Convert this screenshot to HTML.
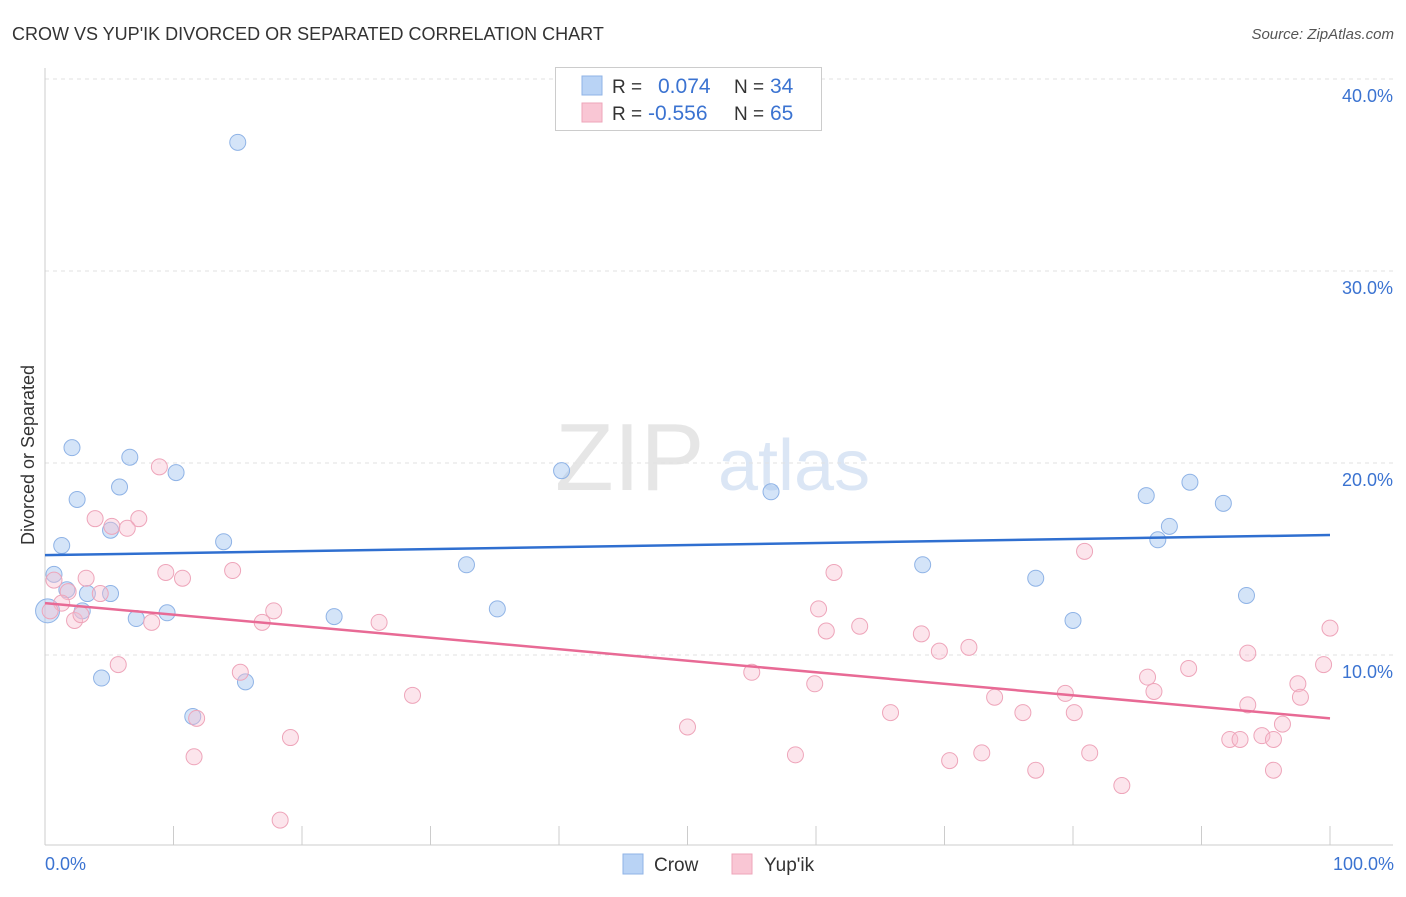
<!DOCTYPE html>
<html><head><meta charset="utf-8"><style>
body{margin:0;background:#fff;font-family:"Liberation Sans",sans-serif;}
svg text{font-family:"Liberation Sans",sans-serif;}
</style></head><body>
<svg width="1406" height="892" viewBox="0 0 1406 892" xmlns="http://www.w3.org/2000/svg" id="chart">
<text x="12" y="40" font-size="18" fill="#333">CROW VS YUP'IK DIVORCED OR SEPARATED CORRELATION CHART</text>
<text x="1394" y="39" font-size="15" fill="#555" font-style="italic" text-anchor="end">Source: ZipAtlas.com</text>
<g>
<text x="555" y="490" font-size="96" fill="#e6e6e6" font-family="Liberation Serif,serif">ZIP</text>
<text x="718" y="490" font-size="72" fill="#dbe6f5">atlas</text>
</g>
<g id="grid"></g>
<g id="yticks"></g>
<g id="xaxis"></g>
<text transform="translate(34,455) rotate(-90)" font-size="18" fill="#333" text-anchor="middle">Divorced or Separated</text>
<text x="45" y="870" font-size="18" fill="#3b73d1">0.0%</text>
<text x="1394" y="870" font-size="18" fill="#3b73d1" text-anchor="end">100.0%</text>
<g id="pts"></g>
<g id="trends"></g>
<g>
<rect x="555.5" y="67.5" width="266" height="63" fill="#fff" stroke="#ccc"/>
<rect x="582" y="76" width="20" height="19" fill="#b9d3f5" stroke="#8fb3e6"/>
<text x="612" y="93" font-size="19" fill="#333">R = </text><text x="658" y="93" font-size="21" fill="#3b73d1">0.074</text>
<text x="734" y="93" font-size="19" fill="#333">N = </text><text x="770" y="93" font-size="21" fill="#3b73d1">34</text>
<rect x="582" y="103" width="20" height="19" fill="#f9c6d4" stroke="#eea5ba"/>
<text x="612" y="120" font-size="19" fill="#333">R = </text><text x="648" y="120" font-size="21" fill="#3b73d1">-0.556</text>
<text x="734" y="120" font-size="19" fill="#333">N = </text><text x="770" y="120" font-size="21" fill="#3b73d1">65</text>
</g>
<g>
<rect x="623" y="854" width="20" height="20" fill="#b9d3f5" stroke="#8fb3e6"/>
<text x="654" y="871" font-size="19" fill="#333">Crow</text>
<rect x="732" y="854" width="20" height="20" fill="#f9c6d4" stroke="#eea5ba"/>
<text x="764" y="871" font-size="19" fill="#333">Yup'ik</text>
</g>
</svg>
<script>
const yTicks=[10,20,30,40];
const yTickLabels=["10.0%","20.0%","30.0%","40.0%"];
const xTicks=[10,20,30,40,50,60,70,80,90,100];
const crowX=[15.0,2.1,6.6,10.2,2.5,5.8,5.1,1.3,13.9,0.7,1.7,3.3,5.1,2.9,7.1,9.5,4.4,15.6,11.5,22.5,32.8,35.2,40.2,56.5,68.3,77.1,80.0,85.7,89.1,91.7,87.5,86.6,93.5,0.2];
const crowY=[36.7,20.8,20.3,19.5,18.1,18.75,16.5,15.7,15.9,14.2,13.4,13.2,13.2,12.3,11.9,12.2,8.8,8.6,6.8,12.0,14.7,12.4,19.6,18.5,14.7,14.0,11.8,18.3,19.0,17.9,16.7,16.0,13.1,12.3];
const yupX=[8.9,3.9,7.3,5.2,6.4,0.7,3.2,10.7,9.4,14.6,1.8,4.3,1.3,2.3,2.8,8.3,17.8,16.9,26.0,5.7,15.2,28.6,11.8,11.6,19.1,18.3,61.4,60.2,60.8,63.4,68.2,69.6,71.9,55.0,59.9,50.0,58.4,65.8,73.9,76.1,70.4,72.9,77.1,79.4,80.1,81.3,80.9,83.8,85.8,86.3,89.0,93.6,93.6,92.2,93.0,94.7,95.6,96.3,95.6,97.5,97.7,99.5,100,0.4];
const yupY=[19.8,17.1,17.1,16.7,16.6,13.9,14.0,14.0,14.3,14.4,13.3,13.2,12.7,11.8,12.1,11.7,12.3,11.7,11.7,9.5,9.1,7.9,6.7,4.7,5.7,1.4,14.3,12.4,11.25,11.5,11.1,10.2,10.4,9.1,8.5,6.25,4.8,7.0,7.8,7.0,4.5,4.9,4.0,8.0,7.0,4.9,15.4,3.2,8.85,8.1,9.3,10.1,7.4,5.6,5.6,5.8,5.6,6.4,4.0,8.5,7.8,9.5,11.4,12.3];
const crowTrend=[15.2,16.25];
const yupTrend=[12.7,6.7];
const X=v=>45+v*12.85, Y=v=>847-v*19.2;
const NS="http://www.w3.org/2000/svg";
function mk(tag,attrs,parent){const e=document.createElementNS(NS,tag);for(const k in attrs)e.setAttribute(k,attrs[k]);parent.appendChild(e);return e;}
const grid=document.getElementById('grid'),yt=document.getElementById('yticks'),xa=document.getElementById('xaxis');
yTicks.forEach((t,i)=>{
 const l=mk('line',{x1:45,x2:1393,y1:Y(t),y2:Y(t),stroke:'#e2e2e2','stroke-dasharray':'4,4'},grid);
 
 
 const tx=mk('text',{x:1393,y:Y(t)+23,'font-size':18,fill:'#3b73d1','text-anchor':'end'},yt);
 tx.textContent=yTickLabels[i];
 
 
});
mk('line',{x1:45,x2:45,y1:68,y2:845,stroke:'#ccc'},xa);
mk('line',{x1:45,x2:1393,y1:845,y2:845,stroke:'#ccc'},xa);
xTicks.forEach(t=>{const l=mk('line',{x1:X(t),x2:X(t),y1:826,y2:845,stroke:'#ccc'},xa);
 
 });
const pts=document.getElementById('pts');
crowX.forEach((v,i)=>{const c=mk('circle',{cx:X(v),cy:Y(crowY[i]),r:i==crowX.length-1?12:8,fill:'rgba(160,196,240,0.45)',stroke:'#8fb3e6','stroke-width':1},pts);
 
 });
yupX.forEach((v,i)=>{const c=mk('circle',{cx:X(v),cy:Y(yupY[i]),r:8,fill:'rgba(248,190,208,0.4)',stroke:'#eea5ba','stroke-width':1},pts);
 
 });
const tr=document.getElementById('trends');
const t1=mk('line',{x1:X(0),x2:X(100),y1:Y(crowTrend[0]),y2:Y(crowTrend[1]),stroke:'#2f6fd0','stroke-width':2.5},tr);


const t2=mk('line',{x1:X(0),x2:X(100),y1:Y(yupTrend[0]),y2:Y(yupTrend[1]),stroke:'#e86a95','stroke-width':2.5},tr);


</script>
</body></html>
